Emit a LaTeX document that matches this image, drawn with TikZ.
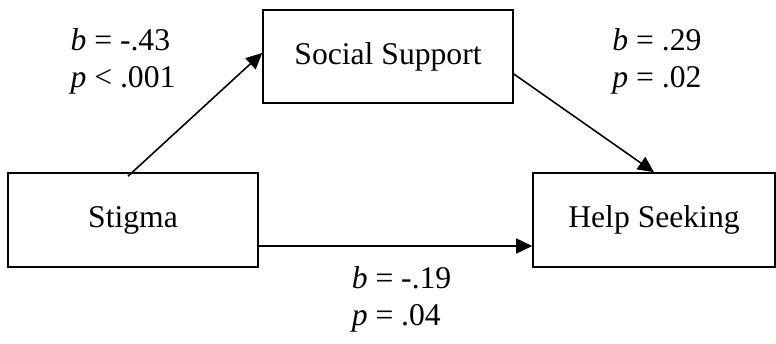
\documentclass[tikz,border=0pt]{standalone}
\usepackage{fontspec}
\setmainfont{Liberation Serif}
\usetikzlibrary{arrows.meta}
\begin{document}
\begin{tikzpicture}[>={Triangle[length=0.32cm,width=0.3cm]}, line width=0.9pt,
  var/.style={draw, minimum height=1.88cm, inner sep=0pt, font=\fontsize{18}{21.6}\selectfont},
  est/.style={align=left, inner sep=0pt, font=\fontsize{18}{21}\selectfont}]
\useasboundingbox (0,0) rectangle (15.52,6.86);
\node[var, minimum width=5cm] (stigma) at (2.66,2.46) {Stigma};
\node[var, minimum width=5cm, minimum height=1.86cm] (support) at (7.76,5.73) {Social Support};
\node[var, minimum width=4.84cm] (help) at (13.08,2.46) {Help Seeking};
\node[est] (ab) at (2.46,5.64) {\textit{b} = -.43\\\textit{p} < .001};
\node[est] (bb) at (13.14,5.64) {\textit{b} = .29\\\textit{p} = .02};
\node[est, anchor=west] (cb) at (7.02,0.87) {\textit{b} = -.19\\\textit{p} = .04};
\draw[->] ([xshift=-0.1cm,yshift=-0.08cm]stigma.north) -- ([yshift=0.07cm]support.west);
\draw[->] ([yshift=-0.35cm]support.east) -- (help.north);
\draw[->] ([yshift=-0.52cm]stigma.east) -- ([yshift=-0.52cm]help.west);
\end{tikzpicture}
\end{document}
